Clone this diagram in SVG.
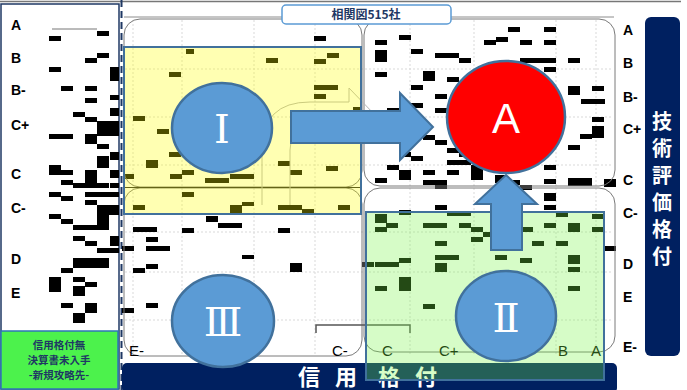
<svg xmlns="http://www.w3.org/2000/svg" width="687" height="390" viewBox="0 0 687 390">
<defs>
<style>
.b{fill:#000}
.grid{stroke:#d9d9d9;stroke-width:1;stroke-dasharray:2 2;fill:none}
.quad{fill:none;stroke:#7a7a7a;stroke-width:1}
.yl{font-family:"Liberation Sans",Arial,sans-serif;font-weight:bold;font-size:14px;fill:#000}
.xl{font-family:"Liberation Sans",Arial,sans-serif;font-size:15px;fill:#000}
.jp{font-family:"Noto Sans CJK JP","Noto Sans CJK SC",sans-serif;font-weight:bold}
.circ{fill:#5B9BD5;stroke:#41719C;stroke-width:2.5}
.rn{font-family:"DejaVu Serif","Liberation Serif",serif;font-size:40px;fill:#fff;text-anchor:middle}
.arr{fill:#5B9BD5;stroke:#41719C;stroke-width:2}
</style>
</defs>
<rect width="687" height="390" fill="#fff"/>
<line x1="0" y1="1.5" x2="681" y2="1.5" stroke="#777" stroke-width="1.5"/>

<!-- left panel -->
<g id="left-panel">
<rect x="1" y="4" width="118" height="385" fill="#fff" stroke="#1F3864" stroke-width="1.5"/>
<path class="b" d="M97 31h12v5h-12zM49 36h12v5h-12zM97 53h12v5h-12zM85 58h12v5h-12zM49 67h12v5h-12zM110 67h9v14h-9zM61 86h12v5h-12zM85 86h12v5h-12zM110 95h9v5h-9zM85 98h12v5h-12zM110 108h9v8h-9zM73 112h12v5h-12zM85 117h12v5h-12zM97 121h22v15h-22zM49 134h24v5h-24zM85 134h12v10h-12zM97 144h12v5h-12zM110 152h9v8h-9zM97 156h12v12h-12zM49 165h12v10h-12zM61 170h12v5h-12zM110 170h9v8h-9zM85 170h12v18h-12zM61 180h12v5h-12zM73 183h36v5h-36zM110 183h9v5h-9zM49 192h12v5h-12zM61 196h12v5h-12zM85 192h34v5h-34zM85 200h12v5h-12zM97 205h22v10h-22zM49 214h12v5h-12zM61 219h12v5h-12zM97 215h12v10h-12zM73 225h36v5h-36zM73 236h12v5h-12zM110 236h9v10h-9zM85 241h12v5h-12zM97 248h22v5h-22zM73 258h36v10h-36zM61 268h12v5h-12zM49 277h12v15h-12zM73 277h12v5h-12zM73 286h12v10h-12zM85 282h12v5h-12zM61 303h12v5h-12zM85 303h12v10h-12zM73 313h12v10h-12z"/>
<line x1="52" y1="29" x2="97" y2="29" stroke="#777" stroke-width="1"/>
<text class="yl" x="11" y="30">A</text>
<text class="yl" x="11" y="63">B</text>
<text class="yl" x="11" y="95">B-</text>
<text class="yl" x="11" y="130">C+</text>
<text class="yl" x="11" y="179">C</text>
<text class="yl" x="11" y="213">C-</text>
<text class="yl" x="11" y="264">D</text>
<text class="yl" x="11" y="298">E</text>
<rect x="1" y="331" width="117" height="58" fill="#4CF24C" stroke="#2E75B6" stroke-width="1.5"/>
<g class="jp" font-size="10.5" fill="#1F3864" text-anchor="middle">
<text x="59" y="349">信用格付無</text>
<text x="59" y="364">決算書未入手</text>
<text x="59" y="379">-新規攻略先-</text>
</g>
</g>
<line x1="121.5" y1="0" x2="121.5" y2="390" stroke="#1F3864" stroke-width="2" stroke-dasharray="7 4"/>

<!-- chart -->
<g id="chart">
<g class="grid">
<path d="M133 20V355M182 20V355M254 20V355M315 20V355M410 20V355M474 20V355M556 20V355M596 20V355"/>
<path d="M125 69H612M125 117H612M125 165H612M125 232H612M125 272H612M125 320H612"/>
</g>
<line x1="124" y1="17" x2="614" y2="17" stroke="#8c8c8c" stroke-width="1"/>
<path class="b" d="M314 36h12v5h-12zM186 49h8v5h-8zM327 53h12v5h-12zM266 58h12v5h-12zM314 59h12v5h-12zM169 72h12v5h-12zM314 85h24v5h-24zM314 94h12v5h-12zM353 107h8v5h-8zM133 116h12v5h-12zM157 129h12v5h-12zM169 152h12v5h-12zM146 160h12v8h-12zM278 161h12v5h-12zM290 170h12v5h-12zM326 166h12v5h-12zM182 170h12v5h-12zM124 174h10v5h-10zM170 174h12v5h-12zM205 178h24v5h-24zM230 174h24v5h-24zM182 192h12v5h-12zM133 205h12v5h-12zM230 205h12v9h-12zM242 202h12v4h-12zM278 205h24v5h-24zM302 209h12v5h-12zM338 205h12v5h-12zM206 216h12v6h-12zM218 223h24v5h-24zM133 227h24v5h-24zM182 228h12v5h-12zM278 228h12v5h-12zM146 237h12v5h-12zM122 246h12v5h-12zM146 246h24v5h-24zM242 255h12v4h-12zM146 264h12v5h-12zM133 268h12v5h-12zM290 263h12v9h-12zM146 303h12v5h-12zM122 308h12v5h-12z"/>
<path class="b" d="M375 40h12v5h-12zM375 50h12v12h-12zM399 35h12v5h-12zM411 49h12v5h-12zM435 53h24v5h-24zM459 58h12v5h-12zM484 40h12v5h-12zM496 37h12v5h-12zM508 27h12v5h-12zM520 40h12v5h-12zM544 40h12v5h-12zM544 27h12v5h-12zM520 58h36v5h-36zM544 67h12v5h-12zM568 58h12v5h-12zM375 72h12v5h-12zM423 71h12v10h-12zM447 77h12v5h-12zM411 85h12v5h-12zM435 94h12v5h-12zM387 108h12v5h-12zM411 103h12v5h-12zM435 108h12v5h-12zM568 86h12v9h-12zM592 86h12v5h-12zM581 99h24v5h-24zM592 117h12v5h-12zM592 126h12v12h-12zM580 134h12v5h-12zM568 145h12v5h-12zM423 135h12v5h-12zM435 140h12v5h-12zM447 148h12v5h-12zM459 152h12v5h-12zM399 152h12v5h-12zM411 156h12v5h-12zM387 165h12v5h-12zM399 170h12v10h-12zM423 170h12v5h-12zM447 160h24v5h-24zM447 170h12v5h-12zM471 165h12v15h-12zM375 178h12v5h-12zM423 180h24v5h-24zM435 184h12v5h-12zM495 175h12v8h-12zM544 165h12v5h-12zM544 179h12v5h-12zM568 178h24v8h-24zM604 179h12v8h-12zM508 180h12v5h-12zM520 185h12v5h-12z"/>
<path class="b" d="M544 193h12v8h-12zM435 205h12v5h-12zM399 210h12v5h-12zM447 211h24v5h-24zM544 205h12v5h-12zM556 212h12v5h-12zM375 214h12v9h-12zM386 223h12v5h-12zM375 227h12v5h-12zM423 223h24v5h-24zM459 223h12v5h-12zM471 227h12v5h-12zM471 237h12v5h-12zM483 232h12v5h-12zM435 241h12v5h-12zM521 227h12v5h-12zM544 223h12v5h-12zM568 223h12v9h-12zM592 214h12v5h-12zM592 227h12v5h-12zM532 241h12v5h-12zM556 241h12v5h-12zM604 246h12v5h-12zM362 262h12v5h-12zM375 262h12v5h-12zM387 262h12v5h-12zM399 258h12v5h-12zM435 255h24v5h-24zM435 263h12v9h-12zM495 255h12v5h-12zM520 258h12v5h-12zM568 255h12v9h-12zM568 267h12v5h-12zM568 286h12v5h-12zM375 286h12v5h-12zM399 277h12v14h-12zM423 304h12v5h-12z"/>
<rect class="quad" x="124" y="19" width="238" height="168" rx="16"/>
<rect class="quad" x="124" y="188" width="238" height="168" rx="16"/>
<rect class="quad" x="364" y="19" width="251" height="167" rx="16"/>
<rect class="quad" x="364" y="188" width="251" height="164" rx="16"/>
<line x1="124" y1="187.5" x2="362" y2="187.5" stroke="#222" stroke-width="1"/>
<path d="M262 205V150Q262 102 310 102H349V88L375 115L349 143V133H305Q290 133 290 150V205" fill="none" stroke="#b5b5b5" stroke-width="1"/>
<path d="M316 333V325H410V333" fill="none" stroke="#555" stroke-width="1.5"/>
<rect x="124" y="47" width="237" height="167" fill="#FFFF00" fill-opacity="0.3" stroke="#41719C" stroke-width="2"/>
<text class="xl" x="129" y="356">E-</text>
<text class="xl" x="332" y="356">C-</text>
<text class="xl" x="382" y="356">C</text>
<text class="xl" x="439" y="356">C+</text>
<text class="xl" x="558" y="356">B</text>
<text class="xl" x="591" y="356">A</text>
<rect x="122" y="363" width="495" height="30" rx="5" fill="#002060"/>
<g class="jp" font-size="22" fill="#fff" text-anchor="middle">
<text x="309" y="385">信</text>
<text x="346" y="385">用</text>
<text x="389" y="385">格</text>
<text x="426" y="385">付</text>
</g>
<rect x="366" y="212" width="238" height="168" fill="rgb(120,245,70)" fill-opacity="0.3" stroke="#41719C" stroke-width="2"/>
<text class="yl" x="623" y="35" font-size="13">A</text>
<text class="yl" x="623" y="68" font-size="13">B</text>
<text class="yl" x="623" y="102" font-size="13">B-</text>
<text class="yl" x="623" y="134" font-size="13">C+</text>
<text class="yl" x="623" y="185" font-size="13">C</text>
<text class="yl" x="623" y="218" font-size="13">C-</text>
<text class="yl" x="623" y="269" font-size="13">D</text>
<text class="yl" x="623" y="302" font-size="13">E</text>
<text class="yl" x="623" y="352" font-size="13">E-</text>
<rect x="645" y="17" width="35" height="339" rx="6" fill="#002060"/>
<g class="jp" font-size="20" fill="#fff" text-anchor="middle">
<text x="662" y="129">技</text>
<text x="662" y="156">術</text>
<text x="662" y="183">評</text>
<text x="662" y="210">価</text>
<text x="662" y="237">格</text>
<text x="662" y="264">付</text>
</g>
<g id="title">
<rect x="282" y="5" width="169" height="19" rx="4" fill="#fff" stroke="#5B9BD5" stroke-width="1.5"/>
<text class="jp" x="366" y="19" font-size="12" fill="#1F3864" text-anchor="middle">相関図515社</text>
</g>
</g>

<g id="connectors">
<polygon class="arr" points="291,111 400,111 400,93 433,127 400,160 400,143 291,143"/>
<polygon class="arr" points="491,250 491,204 475,204 506,175 537,204 522,204 522,250"/>
</g>
<g id="node-I">
<ellipse class="circ" cx="222" cy="128" rx="50" ry="45"/>
<text class="rn" x="222" y="143">Ⅰ</text>
</g>
<g id="node-A">
<ellipse cx="506" cy="117" rx="59" ry="56" fill="#FF0000" stroke="#41719C" stroke-width="2.5"/>
<text x="506" y="133" font-family="Liberation Sans,Arial,sans-serif" font-size="42" fill="#fff" text-anchor="middle">A</text>
</g>
<g id="node-III">
<ellipse class="circ" cx="223" cy="321" rx="51" ry="46"/>
<text class="rn" x="223" y="336">Ⅲ</text>
</g>
<g id="node-II">
<ellipse class="circ" cx="506" cy="316" rx="50" ry="45"/>
<text class="rn" x="506" y="332">Ⅱ</text>
</g>
</svg>
